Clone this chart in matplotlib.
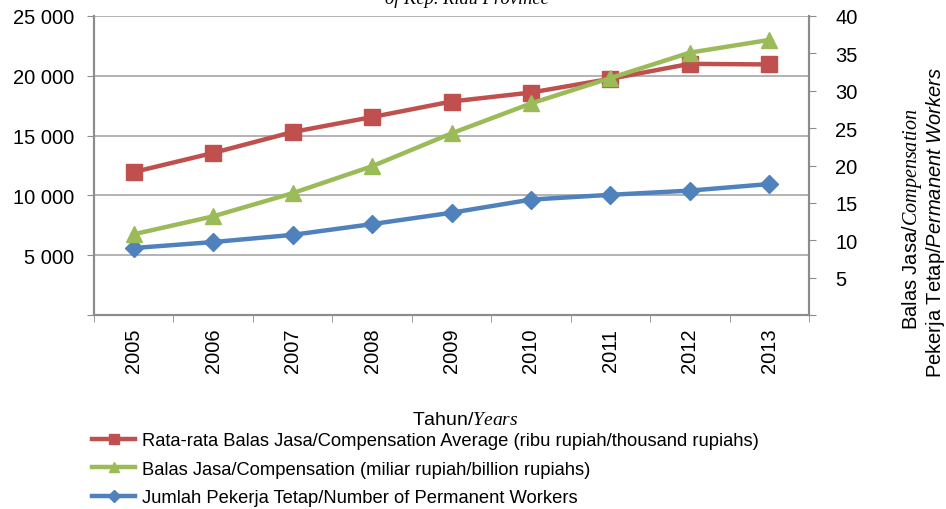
import matplotlib.pyplot as plt
from matplotlib.ticker import FixedLocator, FuncFormatter
from matplotlib.lines import Line2D

plt.rcParams['font.family'] = ['Liberation Sans', 'DejaVu Sans']
plt.rcParams['mathtext.fontset'] = 'custom'
plt.rcParams['mathtext.rm'] = 'Liberation Sans'
plt.rcParams['mathtext.it'] = 'Liberation Serif:italic'
plt.rcParams['mathtext.sf'] = 'Liberation Sans:italic'

# data
years = ['2005', '2006', '2007', '2008', '2009', '2010', '2011', '2012', '2013']
avg_comp = [11950, 13550, 15300, 16550, 17850, 18600, 19750, 21000, 20950]   # ribu rupiah
comp = [10.8, 13.2, 16.3, 19.9, 24.3, 28.3, 31.7, 35.1, 36.8]               # miliar rupiah
workers = [5600, 6100, 6700, 7600, 8550, 9650, 10050, 10400, 10950]

labels = ['Rata-rata Balas Jasa/Compensation Average (ribu rupiah/thousand rupiahs)',
          'Balas Jasa/Compensation (miliar rupiah/billion rupiahs)',
          'Jumlah Pekerja Tetap/Number of Permanent Workers']

red = '#C0504D'
green = '#9BBB59'
blue = '#4F81BD'
gray = '#8C8C8C'
fs = 14.5

fig = plt.figure(figsize=(9.46, 5.10), dpi=100)
ax = fig.add_axes([94 / 946, 1 - 316 / 510, (809 - 94) / 946, (316 - 17) / 510])
ax2 = ax.twinx()

x = list(range(len(years)))
ax.plot(x, avg_comp, color=red, lw=3.2, marker='s', ms=11, zorder=3)
ax.plot(x, workers, color=blue, lw=3.2, marker='D', ms=9, zorder=3)
ax2.plot(x, comp, color=green, lw=3.2, marker='^', ms=12, zorder=3)

ax.set_xlim(-0.5, len(years) - 0.5)
ax.set_ylim(0, 25000)
ax2.set_ylim(0, 40)

ax.set_yticks(range(0, 25001, 5000))
ax.yaxis.set_major_formatter(FuncFormatter(lambda v, p: '' if v == 0 else f'{v:,.0f}'.replace(',', ' ')))
ax2.set_yticks(range(0, 41, 5))
ax2.yaxis.set_major_formatter(FuncFormatter(lambda v, p: '' if v == 0 else f'{v:.0f}'))
ax.grid(axis='y', color='#A6A6A6', lw=1.2)

ax.set_xticks(x)
ax.set_xticklabels(years, rotation=90)
ax.xaxis.set_minor_locator(FixedLocator([i - 0.5 for i in range(len(years) + 1)]))
ax.tick_params(axis='x', which='major', length=0, pad=9, labelsize=fs)
ax.tick_params(axis='x', which='minor', length=5, color=gray)
ax.tick_params(axis='y', length=5, color=gray, labelsize=fs, pad=9)
ax2.tick_params(axis='y', length=5, color=gray, labelsize=fs, pad=14)

for a in (ax, ax2):
    for s in a.spines.values():
        s.set_color(gray)
        s.set_linewidth(1.5)
    a.spines['top'].set_visible(False)

fig.text(467 / 946, 1 - 4 / 510, 'of Kep. Riau Province', family='Liberation Serif',
         style='italic', fontsize=13.3, ha='center', va='baseline')
fig.text(465 / 946, 1 - 421 / 510, 'Tahun/$\\mathit{Years}$', fontsize=14, ha='center', va='center')
fig.text(912 / 946, 1 - 219 / 510, 'Balas Jasa/$\\mathit{Compensation}$', fontsize=fs,
         rotation=90, ha='center', va='center')
fig.text(935 / 946, 1 - 223 / 510, 'Pekerja Tetap/$\\mathsf{Permanent\\ Workers}$', fontsize=fs,
         rotation=90, ha='center', va='center')

handles = [Line2D([], [], color=red, lw=3.2, marker='s', ms=7),
           Line2D([], [], color=green, lw=3.2, marker='^', ms=7),
           Line2D([], [], color=blue, lw=3.2, marker='D', ms=6)]
fig.legend(handles, labels, loc='upper left', bbox_to_anchor=(92 / 946, 1 - 433 / 510),
           frameon=False, fontsize=13.2, handlelength=2.35, handletextpad=0.38,
           labelspacing=0.64, borderaxespad=0, borderpad=0)

fig.savefig('out.png', dpi=100)
